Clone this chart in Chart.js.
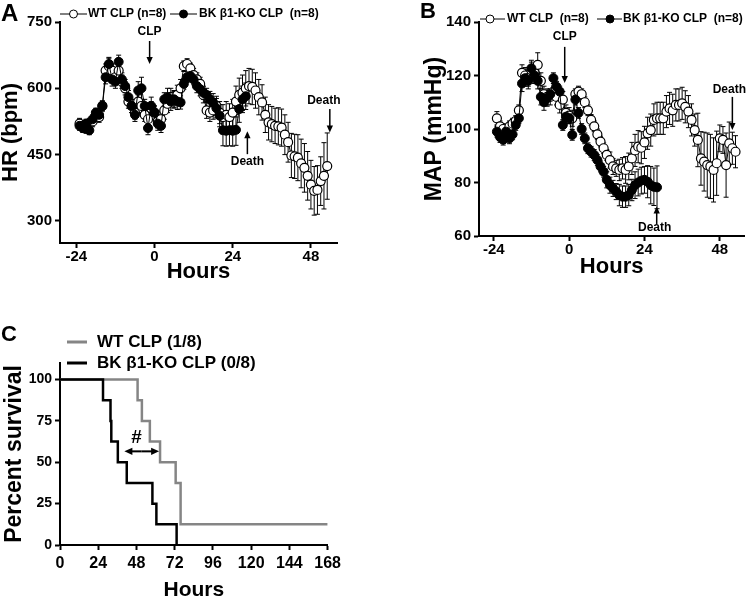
<!DOCTYPE html>
<html>
<head>
<meta charset="utf-8">
<title>HR, MAP and survival after CLP</title>
<script src="https://cdn.jsdelivr.net/npm/chart.js@4.4.1/dist/chart.umd.min.js"></script>
<style>
  html, body { margin: 0; padding: 0; background: #fff; }
  #wrap { position: relative; width: 750px; height: 599px; overflow: hidden; background: #fff; }
  canvas { position: absolute; }
</style>
</head>
<body>
<div id="wrap">
  <canvas id="hrChart" width="345" height="283" style="left:0;top:0"></canvas>
  <canvas id="mapChart" width="375" height="278" style="left:375px;top:0"></canvas>
  <canvas id="survChart" width="345" height="299" style="left:0;top:300px"></canvas>
</div>
<script>
const FONT = "'Liberation Sans', Arial, sans-serif";

// Hours of each recording (hourly)
const hoursWT = [-23,-22,-21,-20,-19,-18,-17,-16,-15,-14,-13,-12,-11,-10,-9,-8,-7,-6,-5,-4,
  -3,-2,-1,0,1,2,3,4,5,6,7,8,9,10,11,12,13,14,15,16,17,18,19,20,21,22,23,24,25,26,
  27,28,29,30,31,32,33,34,35,36,37,38,39,40,41,42,43,44,45,46,47,48,49,50,51,52,53];
const hoursKO = [-23,-22,-21,-20,-19,-18,-17,-16,-15,-14,-13,-12,-11,-10,-9,-8,-7,-6,-5,-4,
  -3,-2,-1,0,1,2,3,4,5,6,7,8,9,10,11,12,13,14,15,16,17,18,19,20,21,22,23,24,25,26,27,28];

// A: heart rate (bpm), mean and SEM
const hrWT = [520,515,510,520,525,540,535,560,640,650, 640,625,640,615,600,570,560,545,570,560,
  540,530,555,545,525,530,550,565,580,575, 585,600,650,655,645,630,620,610,585,550,
  545,550,560,545,535,540,535,545,570,585, 590,600,605,603,595,580,568,540,523,519,
  515,514,511,495,478,448,446,443,430,420, 402,382,368,370,390,402,424];
const hrWTerr = [12,12,12,12,12,12,12,12, 15,18,15,15,15,15,15, 15,15,15,15,15,15,15,15,
  15,15,18,20,20,20,20,22,20, 12,12,12,15,15,15,18,18, 20,20,22,25,28,30,30,30,
  35,38,40,40,40,40,40,40,40, 40,40,40,40,42,42,45,45, 50,50,52,55,55,55,55,55,55,55,75,75];
const hrKO = [515,510,520,505,530,545,540,560,625,655, 620,615,660,620,605,580,560,540,595,600,
  560,510,560,545,520,515,575,580,570,575, 570,568,610,625,628,620,605,598,590,585,
  575,568,555,538,505,504,505,504,506,553, 575,582];
const hrKOerr = [10,10,10,10,10,10,10,10,15,15, 15,15,15,15,15,15,15,15,20,25,
  15,15,20,15,15,15,15,20,20,18, 18,15,12,12,12,12,15,15,15,15,
  18,20,22,25,35,35,35,35,35,30, 30,30];

// B: mean arterial pressure (mmHg), mean and SEM
const mapWT = [104,101,100,99,101,102,103,107,121,120, 119,122,121,124,118,113,112,112,114,112,
  109,111,106,105,104,113,114,113,110,107, 103.4,101,98,95.3,92.8,90.3,88.4,86,85.3,84.7,
  85.3,84.7,86,89,92,93.4,93,95,98.4,99.6, 103.4,104,104,104,106.5,107.7,107,109,109,109.6,
  108.3,106.5,103.4,99.6,95.9,89,87.8,86.5,86,84.7, 87.2,96.5,95.9,86.5,94.6,92.8,91.5];
const mapWTerr = [2.5,2,2,2,2,2,2,2,3,3, 3,3,3,4.5,3,3,3,3,3,3, 3,3,3,3,3,2,2,2,2,2,
  2,2,2,2,2,2,3,3,3,4, 4,5,5,6,6,6,6,6,6,6, 6,6,6,6,6,6,6,6,6,6,
  6,6,6,6,10,10,11,12,12,12, 12,5,5,12,8,6,6];
const mapKO = [99,97,96,99,96.5,98,101.5,104,117,119, 118,122.7,120,118,112,110,111.5,113,119,115.8,
  114,101.5,104.6,104,97.8,111,106,100,96.5,92.8, 91.5,90.3,88.4,86,84,81,79,77.8,76.6,75.3,
  74.7,74.7,75.3,77.2,79,80,80.7,81,80.3,79, 78.4,78.2];
const mapKOerr = [2,2,2,2,2,2,2,2,3,3, 3,3,3,3,3,3,3,2,2,2, 2,2,2,2,2,2,2,2,2,2,
  2,2,2,2,2,3,3,3,3,4, 4,4,4,4,5,5,5,5,6,7, 7,8];

// C: Kaplan-Meier survival (hours, percent)
const survWThours = [0, 48.7, 51.4, 56.4, 62.8, 72.6, 75.7, 168];
const survWT = [100, 87.5, 75, 62.5, 50, 37.5, 12.5, 12.5];
const survKOhours = [0, 27, 31.7, 32.2, 36.3, 41.9, 58, 60.5, 73.2];
const survKO = [100, 87.5, 75, 62.5, 50, 37.5, 25, 12.5, 0];

// tick labels
const hourTicks = [-24, 0, 24, 48];
const hrTicks = [300, 450, 600, 750];
const mapTicks = [60, 80, 100, 120, 140];
const survTicks = [0, 25, 50, 75, 100];
const survHourTicks = [0, 24, 48, 72, 96, 120, 144, 168];

// arrows with labels (data units)
const hrNotes = [
  { text: 'CLP', x: -1.5, textY: 728, from: 707, to: 655, dx: 0 },
  { text: 'Death', x: 28.5, textY: 435, from: 451, to: 503, dx: 0 },
  { text: 'Death', x: 53.8, textY: 572, from: 553, to: 500, dx: -6 }
];
const mapNotes = [
  { text: 'CLP', x: -1.4, textY: 134.4, from: 130.7, to: 117.2, dx: 0 },
  { text: 'Death', x: 27.9, textY: 63, from: 64.5, to: 71, dx: -2 },
  { text: 'Death', x: 52, textY: 114.6, from: 112, to: 99.6, dx: -3 }
];

const pts = (xs, ys) => xs.map((x, i) => ({ x, y: ys[i] }));

function arrow(ctx, x1, y1, x2, y2, head) {
  const a = Math.atan2(y2 - y1, x2 - x1);
  const c = Math.cos(a), s = Math.sin(a);
  ctx.beginPath();
  ctx.moveTo(x1, y1);
  ctx.lineTo(x2 - c * head * 0.8, y2 - s * head * 0.8);
  ctx.stroke();
  ctx.beginPath();
  ctx.moveTo(x2, y2);
  ctx.lineTo(x2 - head * c + head * 0.45 * s, y2 - head * s - head * 0.45 * c);
  ctx.lineTo(x2 - head * c - head * 0.45 * s, y2 - head * s + head * 0.45 * c);
  ctx.closePath();
  ctx.fill();
}

// draws SEM bars behind the points
const errorBars = {
  id: 'errorBars',
  beforeDatasetsDraw(chart) {
    const { ctx } = chart;
    const y = chart.scales.y;
    ctx.save();
    ctx.strokeStyle = '#000';
    ctx.lineWidth = 1;
    chart.data.datasets.forEach((ds, i) => {
      if (!ds.errors) return;
      chart.getDatasetMeta(i).data.forEach((pt, j) => {
        const v = ds.data[j].y, e = ds.errors[j];
        const top = y.getPixelForValue(v + e), bot = y.getPixelForValue(v - e);
        ctx.beginPath();
        ctx.moveTo(pt.x, top); ctx.lineTo(pt.x, bot);
        ctx.moveTo(pt.x - 2.5, top); ctx.lineTo(pt.x + 2.5, top);
        ctx.moveTo(pt.x - 2.5, bot); ctx.lineTo(pt.x + 2.5, bot);
        ctx.stroke();
      });
    });
    ctx.restore();
  }
};

function notesPlugin(notes, extras) {
  return {
    id: 'notes',
    afterDraw(chart) {
      const { ctx } = chart;
      const { x, y } = chart.scales;
      ctx.save();
      ctx.fillStyle = '#000';
      ctx.strokeStyle = '#000';
      ctx.lineWidth = 1.5;
      ctx.font = `bold 12px ${FONT}`;
      ctx.textAlign = 'center';
      ctx.textBaseline = 'middle';
      notes.forEach(n => {
        const px = x.getPixelForValue(n.x);
        ctx.fillText(n.text, px + n.dx, y.getPixelForValue(n.textY));
        arrow(ctx, px, y.getPixelForValue(n.from), px, y.getPixelForValue(n.to), 7);
      });
      if (extras) extras(ctx, chart);
      ctx.restore();
    }
  };
}

function topLegend(ctx, items, y) {
  ctx.font = `bold 12px ${FONT}`;
  ctx.textAlign = 'left';
  ctx.textBaseline = 'middle';
  ctx.lineWidth = 1;
  items.forEach(it => {
    ctx.strokeStyle = '#000';
    ctx.beginPath(); ctx.moveTo(it.x0, y); ctx.lineTo(it.x1, y); ctx.stroke();
    ctx.beginPath(); ctx.arc(it.cx, y, 4, 0, Math.PI * 2);
    ctx.fillStyle = it.fill; ctx.fill(); ctx.stroke();
    ctx.fillStyle = '#000';
    ctx.fillText(it.text, it.tx, y);
  });
}

function letter(ctx, t, x, y, size) {
  ctx.font = `bold ${size}px ${FONT}`;
  ctx.textAlign = 'left';
  ctx.textBaseline = 'middle';
  ctx.fillStyle = '#000';
  ctx.fillText(t, x, y);
}

function axis(cfg) {
  return {
    type: 'linear',
    min: cfg.min,
    max: cfg.max,
    border: { color: '#000', width: 2 },
    grid: { drawOnChartArea: false, drawTicks: true, tickLength: 5, tickWidth: 2, tickColor: '#000' },
    ticks: { color: '#000', autoSkip: false, maxRotation: 0, padding: cfg.pad, font: { family: FONT, weight: 'bold', size: cfg.size } },
    title: { display: true, text: cfg.title, color: '#000', padding: { top: cfg.tpad || 0, bottom: cfg.bpad || 0 },
      font: { family: FONT, weight: 'bold', size: cfg.tsize, lineHeight: 1 } },
    afterBuildTicks: s => { s.ticks = cfg.ticks.map(v => ({ value: v })); },
    afterFit: s => { if (cfg.w) s.width = cfg.w; if (cfg.h) s.height = cfg.h; }
  };
}

function seriesChart(id, c) {
  return new Chart(document.getElementById(id), {
    type: 'scatter',
    data: {
      datasets: [
        { label: 'BK β1-KO CLP', data: pts(hoursKO, c.ko), errors: c.koErr, showLine: true,
          borderColor: '#000', borderWidth: 1, backgroundColor: '#000',
          pointBackgroundColor: '#000', pointBorderColor: '#000', pointRadius: 4.5, pointBorderWidth: 1 },
        { label: 'WT CLP', data: pts(hoursWT, c.wt), errors: c.wtErr, showLine: true,
          borderColor: '#000', borderWidth: 1, backgroundColor: '#fff',
          pointBackgroundColor: '#fff', pointBorderColor: '#000', pointRadius: 4.5, pointBorderWidth: 1.2 }
      ]
    },
    options: {
      responsive: false,
      animation: false,
      devicePixelRatio: 1,
      layout: { padding: c.pad },
      plugins: { legend: { display: false }, tooltip: { enabled: false } },
      scales: { x: c.x, y: c.y }
    },
    plugins: [errorBars, notesPlugin(c.notes, c.extras)]
  });
}

// Panel A
seriesChart('hrChart', {
  wt: hrWT, wtErr: hrWTerr, ko: hrKO, koErr: hrKOerr, notes: hrNotes,
  pad: { top: 22, right: 8, left: 0, bottom: 0 },
  x: axis({ min: -29, max: 56, ticks: hourTicks, size: 15, pad: 0, title: 'Hours', tsize: 22, h: 40 }),
  y: axis({ min: 250, max: 750, ticks: hrTicks, size: 15, pad: 3, title: 'HR (bpm)', tsize: 22, w: 60 }),
  extras: ctx => {
    letter(ctx, 'A', 1, 14, 24);
    topLegend(ctx, [
      { x0: 60, x1: 87, cx: 73.5, fill: '#fff', tx: 88, text: 'WT CLP (n=8)' },
      { x0: 170, x1: 197, cx: 183.5, fill: '#000', tx: 199, text: 'BK β1-KO CLP  (n=8)' }
    ], 14);
  }
});

// Panel B
seriesChart('mapChart', {
  wt: mapWT, wtErr: mapWTerr, ko: mapKO, koErr: mapKOerr, notes: mapNotes,
  pad: { top: 22, right: 2, left: 0, bottom: 0 },
  x: axis({ min: -28.7, max: 55.8, ticks: hourTicks, size: 15, pad: 0, title: 'Hours', tsize: 22, h: 42 }),
  y: axis({ min: 60, max: 140, ticks: mapTicks, size: 15, pad: 3, title: 'MAP (mmHg)', tsize: 23, tpad: 48, w: 104 }),
  extras: ctx => {
    letter(ctx, 'B', 45, 12, 22);
    topLegend(ctx, [
      { x0: 105, x1: 130, cx: 115, fill: '#fff', tx: 132, text: 'WT CLP  (n=8)' },
      { x0: 222, x1: 247, cx: 235, fill: '#000', tx: 248, text: 'BK β1-KO CLP  (n=8)' }
    ], 19);
  }
});

// Panel C
new Chart(document.getElementById('survChart'), {
  type: 'scatter',
  data: {
    datasets: [
      { label: 'BK β1-KO CLP (0/8)', data: pts(survKOhours, survKO), showLine: true, stepped: true,
        borderColor: '#000', borderWidth: 2.5, pointRadius: 0 },
      { label: 'WT CLP (1/8)', data: pts(survWThours, survWT), showLine: true, stepped: true,
        borderColor: '#858585', borderWidth: 2.5, pointRadius: 0 }
    ]
  },
  options: {
    responsive: false,
    animation: false,
    devicePixelRatio: 1,
    layout: { padding: { top: 63, right: 15, left: 0, bottom: 0 } },
    plugins: { legend: { display: false }, tooltip: { enabled: false } },
    scales: {
      x: axis({ min: 0, max: 168, ticks: survHourTicks, size: 16, pad: 4, title: 'Hours', tsize: 21, bpad: -2, h: 54 }),
      y: axis({ min: 0, max: 110, ticks: survTicks, size: 14, pad: 3, title: 'Percent survival', tsize: 23, tpad: 3, w: 60 })
    }
  },
  plugins: [notesPlugin([], (ctx, chart) => {
    const { x, y } = chart.scales;
    letter(ctx, 'C', 1, 35, 22);
    ctx.lineWidth = 3;
    [['#858585', 42, 'WT CLP (1/8)'], ['#000', 63, 'BK β1-KO CLP (0/8)']].forEach(([col, ly, txt]) => {
      ctx.strokeStyle = col;
      ctx.beginPath(); ctx.moveTo(67, ly); ctx.lineTo(87, ly); ctx.stroke();
      ctx.fillStyle = '#000';
      ctx.font = `bold 17px ${FONT}`;
      ctx.textAlign = 'left';
      ctx.textBaseline = 'middle';
      ctx.fillText(txt, 97, ly);
    });
    // significance marker between the curves
    ctx.strokeStyle = '#000';
    ctx.fillStyle = '#000';
    ctx.lineWidth = 2;
    const ay = y.getPixelForValue(56.6);
    const x1 = x.getPixelForValue(40.4), x2 = x.getPixelForValue(62.2);
    const mid = (x1 + x2) / 2;
    arrow(ctx, mid, ay, x1, ay, 8);
    arrow(ctx, mid, ay, x2, ay, 8);
    ctx.font = `bold 19px ${FONT}`;
    ctx.textAlign = 'center';
    ctx.fillText('#', x.getPixelForValue(48), y.getPixelForValue(65));
  })]
});
</script>
</body>
</html>
